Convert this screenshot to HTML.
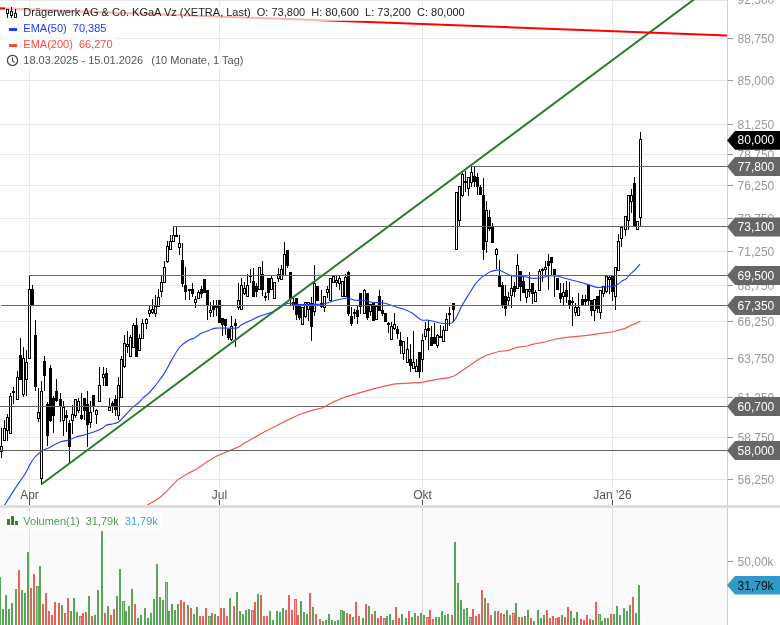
<!DOCTYPE html><html><head><meta charset="utf-8"><style>
html,body{margin:0;padding:0;background:#fff;width:780px;height:625px;overflow:hidden}
svg{display:block;will-change:transform}
text{font-family:"Liberation Sans",sans-serif}
</style></head><body>
<svg width="780" height="625" viewBox="0 0 780 625">
<rect x="0" y="0" width="780" height="625" fill="#fff"/>
<rect x="0" y="508" width="727" height="117" fill="#fafafa"/>
<g shape-rendering="crispEdges">
<rect x="0" y="0" width="727" height="1" fill="#e8e8e8"/>
<rect x="0" y="38" width="727" height="1" fill="#e8e8e8"/>
<rect x="0" y="80" width="727" height="1" fill="#e8e8e8"/>
<rect x="0" y="124" width="727" height="1" fill="#e8e8e8"/>
<rect x="0" y="154" width="727" height="1" fill="#e8e8e8"/>
<rect x="0" y="185" width="727" height="1" fill="#e8e8e8"/>
<rect x="0" y="218" width="727" height="1" fill="#e8e8e8"/>
<rect x="0" y="251" width="727" height="1" fill="#e8e8e8"/>
<rect x="0" y="285" width="727" height="1" fill="#e8e8e8"/>
<rect x="0" y="321" width="727" height="1" fill="#e8e8e8"/>
<rect x="0" y="358" width="727" height="1" fill="#e8e8e8"/>
<rect x="0" y="397" width="727" height="1" fill="#e8e8e8"/>
<rect x="0" y="437" width="727" height="1" fill="#e8e8e8"/>
<rect x="0" y="479" width="727" height="1" fill="#e8e8e8"/>
<rect x="29" y="0" width="1" height="505" fill="#e8e8e8"/>
<rect x="29" y="508" width="1" height="117" fill="#dedede"/>
<rect x="219" y="0" width="1" height="505" fill="#e8e8e8"/>
<rect x="219" y="508" width="1" height="117" fill="#dedede"/>
<rect x="422" y="0" width="1" height="505" fill="#e8e8e8"/>
<rect x="422" y="508" width="1" height="117" fill="#dedede"/>
<rect x="612" y="0" width="1" height="505" fill="#e8e8e8"/>
<rect x="612" y="508" width="1" height="117" fill="#dedede"/>
<rect x="727" y="0" width="1" height="625" fill="#d0d0d0"/>
<rect x="728" y="38" width="5" height="1" fill="#999"/>
<rect x="728" y="80" width="5" height="1" fill="#999"/>
<rect x="728" y="124" width="5" height="1" fill="#999"/>
<rect x="728" y="154" width="5" height="1" fill="#999"/>
<rect x="728" y="185" width="5" height="1" fill="#999"/>
<rect x="728" y="218" width="5" height="1" fill="#999"/>
<rect x="728" y="251" width="5" height="1" fill="#999"/>
<rect x="728" y="285" width="5" height="1" fill="#999"/>
<rect x="728" y="321" width="5" height="1" fill="#999"/>
<rect x="728" y="358" width="5" height="1" fill="#999"/>
<rect x="728" y="397" width="5" height="1" fill="#999"/>
<rect x="728" y="437" width="5" height="1" fill="#999"/>
<rect x="728" y="479" width="5" height="1" fill="#999"/>
<rect x="728" y="561" width="5" height="1" fill="#999"/>
<rect x="29" y="500" width="1" height="5" fill="#444"/>
<rect x="219" y="500" width="1" height="5" fill="#444"/>
<rect x="422" y="500" width="1" height="5" fill="#444"/>
<rect x="612" y="500" width="1" height="5" fill="#444"/>
<rect x="0" y="505" width="780" height="3" fill="#dddddd"/>
</g>
<g shape-rendering="crispEdges">
<rect x="-2" y="446" width="1" height="12" fill="#000"/>
<rect x="-3" y="448" width="3" height="9" fill="#000"/>
<rect x="1" y="428" width="1" height="30" fill="#000"/>
<rect x="0" y="446" width="3" height="6" fill="#000"/>
<rect x="1" y="447" width="1" height="4" fill="#fff"/>
<rect x="4" y="420" width="1" height="21" fill="#000"/>
<rect x="3" y="428" width="3" height="13" fill="#000"/>
<rect x="4" y="429" width="1" height="11" fill="#fff"/>
<rect x="7" y="414" width="1" height="27" fill="#000"/>
<rect x="6" y="417" width="3" height="14" fill="#000"/>
<rect x="7" y="418" width="1" height="12" fill="#fff"/>
<rect x="10" y="393" width="1" height="41" fill="#000"/>
<rect x="9" y="396" width="3" height="38" fill="#000"/>
<rect x="10" y="397" width="1" height="36" fill="#fff"/>
<rect x="13" y="387" width="1" height="17" fill="#000"/>
<rect x="12" y="391" width="3" height="2" fill="#000"/>
<rect x="17" y="371" width="1" height="29" fill="#000"/>
<rect x="16" y="377" width="3" height="23" fill="#000"/>
<rect x="17" y="378" width="1" height="21" fill="#fff"/>
<rect x="20" y="338" width="1" height="42" fill="#000"/>
<rect x="19" y="355" width="3" height="25" fill="#000"/>
<rect x="23" y="347" width="1" height="50" fill="#000"/>
<rect x="22" y="358" width="3" height="37" fill="#000"/>
<rect x="23" y="359" width="1" height="35" fill="#fff"/>
<rect x="26" y="350" width="1" height="46" fill="#000"/>
<rect x="25" y="362" width="3" height="18" fill="#000"/>
<rect x="26" y="363" width="1" height="16" fill="#fff"/>
<rect x="29" y="275" width="1" height="84" fill="#000"/>
<rect x="28" y="289" width="3" height="70" fill="#000"/>
<rect x="29" y="290" width="1" height="68" fill="#fff"/>
<rect x="32" y="285" width="1" height="21" fill="#000"/>
<rect x="31" y="289" width="3" height="17" fill="#000"/>
<rect x="35" y="320" width="1" height="71" fill="#000"/>
<rect x="34" y="335" width="3" height="52" fill="#000"/>
<rect x="38" y="388" width="1" height="34" fill="#000"/>
<rect x="37" y="412" width="3" height="7" fill="#000"/>
<rect x="38" y="413" width="1" height="5" fill="#fff"/>
<rect x="41" y="381" width="1" height="104" fill="#000"/>
<rect x="40" y="391" width="3" height="88" fill="#000"/>
<rect x="41" y="392" width="1" height="86" fill="#fff"/>
<rect x="44" y="356" width="1" height="35" fill="#000"/>
<rect x="43" y="361" width="3" height="15" fill="#000"/>
<rect x="47" y="402" width="1" height="44" fill="#000"/>
<rect x="46" y="404" width="3" height="32" fill="#000"/>
<rect x="50" y="365" width="1" height="57" fill="#000"/>
<rect x="49" y="368" width="3" height="53" fill="#000"/>
<rect x="53" y="396" width="1" height="37" fill="#000"/>
<rect x="52" y="398" width="3" height="18" fill="#000"/>
<rect x="56" y="379" width="1" height="23" fill="#000"/>
<rect x="55" y="391" width="3" height="10" fill="#000"/>
<rect x="60" y="393" width="1" height="29" fill="#000"/>
<rect x="59" y="399" width="3" height="7" fill="#000"/>
<rect x="63" y="401" width="1" height="35" fill="#000"/>
<rect x="62" y="407" width="3" height="14" fill="#000"/>
<rect x="63" y="408" width="1" height="12" fill="#fff"/>
<rect x="66" y="410" width="1" height="22" fill="#000"/>
<rect x="65" y="415" width="3" height="3" fill="#000"/>
<rect x="69" y="420" width="1" height="44" fill="#000"/>
<rect x="68" y="423" width="3" height="24" fill="#000"/>
<rect x="72" y="405" width="1" height="29" fill="#000"/>
<rect x="71" y="414" width="3" height="7" fill="#000"/>
<rect x="72" y="415" width="1" height="5" fill="#fff"/>
<rect x="75" y="399" width="1" height="19" fill="#000"/>
<rect x="74" y="399" width="3" height="17" fill="#000"/>
<rect x="75" y="400" width="1" height="15" fill="#fff"/>
<rect x="78" y="398" width="1" height="15" fill="#000"/>
<rect x="77" y="401" width="3" height="10" fill="#000"/>
<rect x="78" y="402" width="1" height="8" fill="#fff"/>
<rect x="81" y="393" width="1" height="27" fill="#000"/>
<rect x="80" y="415" width="3" height="4" fill="#000"/>
<rect x="84" y="398" width="1" height="22" fill="#000"/>
<rect x="83" y="398" width="3" height="13" fill="#000"/>
<rect x="87" y="391" width="1" height="56" fill="#000"/>
<rect x="86" y="404" width="3" height="21" fill="#000"/>
<rect x="90" y="401" width="1" height="27" fill="#000"/>
<rect x="89" y="412" width="3" height="11" fill="#000"/>
<rect x="90" y="413" width="1" height="9" fill="#fff"/>
<rect x="93" y="395" width="1" height="17" fill="#000"/>
<rect x="92" y="395" width="3" height="12" fill="#000"/>
<rect x="96" y="409" width="1" height="15" fill="#000"/>
<rect x="95" y="410" width="3" height="5" fill="#000"/>
<rect x="96" y="411" width="1" height="3" fill="#fff"/>
<rect x="99" y="367" width="1" height="35" fill="#000"/>
<rect x="98" y="385" width="3" height="17" fill="#000"/>
<rect x="99" y="386" width="1" height="15" fill="#fff"/>
<rect x="103" y="367" width="1" height="19" fill="#000"/>
<rect x="102" y="374" width="3" height="4" fill="#000"/>
<rect x="103" y="375" width="1" height="2" fill="#fff"/>
<rect x="106" y="368" width="1" height="18" fill="#000"/>
<rect x="105" y="373" width="3" height="13" fill="#000"/>
<rect x="109" y="398" width="1" height="13" fill="#000"/>
<rect x="108" y="407" width="3" height="4" fill="#000"/>
<rect x="109" y="408" width="1" height="2" fill="#fff"/>
<rect x="112" y="401" width="1" height="12" fill="#000"/>
<rect x="111" y="403" width="3" height="3" fill="#000"/>
<rect x="115" y="395" width="1" height="21" fill="#000"/>
<rect x="114" y="399" width="3" height="11" fill="#000"/>
<rect x="118" y="377" width="1" height="43" fill="#000"/>
<rect x="117" y="385" width="3" height="31" fill="#000"/>
<rect x="118" y="386" width="1" height="29" fill="#fff"/>
<rect x="121" y="356" width="1" height="42" fill="#000"/>
<rect x="120" y="359" width="3" height="39" fill="#000"/>
<rect x="121" y="360" width="1" height="37" fill="#fff"/>
<rect x="124" y="335" width="1" height="33" fill="#000"/>
<rect x="123" y="343" width="3" height="24" fill="#000"/>
<rect x="124" y="344" width="1" height="22" fill="#fff"/>
<rect x="127" y="331" width="1" height="22" fill="#000"/>
<rect x="126" y="344" width="3" height="3" fill="#000"/>
<rect x="127" y="345" width="1" height="1" fill="#fff"/>
<rect x="130" y="335" width="1" height="22" fill="#000"/>
<rect x="129" y="337" width="3" height="20" fill="#000"/>
<rect x="130" y="338" width="1" height="18" fill="#fff"/>
<rect x="133" y="323" width="1" height="25" fill="#000"/>
<rect x="132" y="325" width="3" height="23" fill="#000"/>
<rect x="133" y="326" width="1" height="21" fill="#fff"/>
<rect x="136" y="318" width="1" height="39" fill="#000"/>
<rect x="135" y="325" width="3" height="32" fill="#000"/>
<rect x="139" y="334" width="1" height="17" fill="#000"/>
<rect x="138" y="338" width="3" height="13" fill="#000"/>
<rect x="139" y="339" width="1" height="11" fill="#fff"/>
<rect x="142" y="319" width="1" height="20" fill="#000"/>
<rect x="141" y="323" width="3" height="16" fill="#000"/>
<rect x="142" y="324" width="1" height="14" fill="#fff"/>
<rect x="146" y="318" width="1" height="11" fill="#000"/>
<rect x="145" y="319" width="3" height="5" fill="#000"/>
<rect x="146" y="320" width="1" height="3" fill="#fff"/>
<rect x="149" y="306" width="1" height="11" fill="#000"/>
<rect x="148" y="310" width="3" height="4" fill="#000"/>
<rect x="149" y="311" width="1" height="2" fill="#fff"/>
<rect x="152" y="299" width="1" height="15" fill="#000"/>
<rect x="151" y="309" width="3" height="4" fill="#000"/>
<rect x="152" y="310" width="1" height="2" fill="#fff"/>
<rect x="155" y="295" width="1" height="22" fill="#000"/>
<rect x="154" y="306" width="3" height="8" fill="#000"/>
<rect x="155" y="307" width="1" height="6" fill="#fff"/>
<rect x="158" y="289" width="1" height="18" fill="#000"/>
<rect x="157" y="297" width="3" height="10" fill="#000"/>
<rect x="158" y="298" width="1" height="8" fill="#fff"/>
<rect x="161" y="276" width="1" height="21" fill="#000"/>
<rect x="160" y="282" width="3" height="10" fill="#000"/>
<rect x="161" y="283" width="1" height="8" fill="#fff"/>
<rect x="164" y="261" width="1" height="22" fill="#000"/>
<rect x="163" y="267" width="3" height="16" fill="#000"/>
<rect x="164" y="268" width="1" height="14" fill="#fff"/>
<rect x="167" y="241" width="1" height="22" fill="#000"/>
<rect x="166" y="246" width="3" height="16" fill="#000"/>
<rect x="167" y="247" width="1" height="14" fill="#fff"/>
<rect x="170" y="235" width="1" height="15" fill="#000"/>
<rect x="169" y="241" width="3" height="9" fill="#000"/>
<rect x="170" y="242" width="1" height="7" fill="#fff"/>
<rect x="173" y="226" width="1" height="16" fill="#000"/>
<rect x="172" y="235" width="3" height="7" fill="#000"/>
<rect x="173" y="236" width="1" height="5" fill="#fff"/>
<rect x="176" y="226" width="1" height="11" fill="#000"/>
<rect x="175" y="235" width="3" height="2" fill="#000"/>
<rect x="179" y="235" width="1" height="20" fill="#000"/>
<rect x="178" y="243" width="3" height="5" fill="#000"/>
<rect x="179" y="244" width="1" height="3" fill="#fff"/>
<rect x="182" y="243" width="1" height="44" fill="#000"/>
<rect x="181" y="260" width="3" height="24" fill="#000"/>
<rect x="185" y="267" width="1" height="33" fill="#000"/>
<rect x="184" y="285" width="3" height="7" fill="#000"/>
<rect x="189" y="289" width="1" height="11" fill="#000"/>
<rect x="188" y="289" width="3" height="2" fill="#000"/>
<rect x="192" y="283" width="1" height="14" fill="#000"/>
<rect x="191" y="289" width="3" height="5" fill="#000"/>
<rect x="195" y="296" width="1" height="12" fill="#000"/>
<rect x="194" y="299" width="3" height="4" fill="#000"/>
<rect x="195" y="300" width="1" height="2" fill="#fff"/>
<rect x="198" y="290" width="1" height="9" fill="#000"/>
<rect x="197" y="292" width="3" height="7" fill="#000"/>
<rect x="198" y="293" width="1" height="5" fill="#fff"/>
<rect x="201" y="286" width="1" height="12" fill="#000"/>
<rect x="200" y="289" width="3" height="5" fill="#000"/>
<rect x="204" y="279" width="1" height="14" fill="#000"/>
<rect x="203" y="279" width="3" height="14" fill="#000"/>
<rect x="207" y="290" width="1" height="30" fill="#000"/>
<rect x="206" y="290" width="3" height="16" fill="#000"/>
<rect x="210" y="302" width="1" height="15" fill="#000"/>
<rect x="209" y="310" width="3" height="3" fill="#000"/>
<rect x="210" y="311" width="1" height="1" fill="#fff"/>
<rect x="213" y="300" width="1" height="17" fill="#000"/>
<rect x="212" y="306" width="3" height="4" fill="#000"/>
<rect x="216" y="300" width="1" height="16" fill="#000"/>
<rect x="215" y="306" width="3" height="2" fill="#000"/>
<rect x="219" y="300" width="1" height="23" fill="#000"/>
<rect x="218" y="300" width="3" height="23" fill="#000"/>
<rect x="222" y="318" width="1" height="18" fill="#000"/>
<rect x="221" y="318" width="3" height="7" fill="#000"/>
<rect x="225" y="319" width="1" height="16" fill="#000"/>
<rect x="224" y="319" width="3" height="7" fill="#000"/>
<rect x="228" y="329" width="1" height="11" fill="#000"/>
<rect x="227" y="329" width="3" height="9" fill="#000"/>
<rect x="231" y="316" width="1" height="25" fill="#000"/>
<rect x="230" y="326" width="3" height="14" fill="#000"/>
<rect x="231" y="327" width="1" height="12" fill="#fff"/>
<rect x="235" y="319" width="1" height="28" fill="#000"/>
<rect x="234" y="323" width="3" height="3" fill="#000"/>
<rect x="238" y="283" width="1" height="27" fill="#000"/>
<rect x="237" y="300" width="3" height="8" fill="#000"/>
<rect x="238" y="301" width="1" height="6" fill="#fff"/>
<rect x="241" y="278" width="1" height="32" fill="#000"/>
<rect x="240" y="285" width="3" height="25" fill="#000"/>
<rect x="241" y="286" width="1" height="23" fill="#fff"/>
<rect x="244" y="282" width="1" height="13" fill="#000"/>
<rect x="243" y="288" width="3" height="6" fill="#000"/>
<rect x="244" y="289" width="1" height="4" fill="#fff"/>
<rect x="247" y="274" width="1" height="23" fill="#000"/>
<rect x="246" y="285" width="3" height="12" fill="#000"/>
<rect x="247" y="286" width="1" height="10" fill="#fff"/>
<rect x="250" y="269" width="1" height="14" fill="#000"/>
<rect x="249" y="275" width="3" height="2" fill="#000"/>
<rect x="253" y="268" width="1" height="29" fill="#000"/>
<rect x="252" y="281" width="3" height="16" fill="#000"/>
<rect x="256" y="283" width="1" height="14" fill="#000"/>
<rect x="255" y="286" width="3" height="6" fill="#000"/>
<rect x="259" y="267" width="1" height="23" fill="#000"/>
<rect x="258" y="267" width="3" height="23" fill="#000"/>
<rect x="259" y="268" width="1" height="21" fill="#fff"/>
<rect x="262" y="261" width="1" height="35" fill="#000"/>
<rect x="261" y="274" width="3" height="16" fill="#000"/>
<rect x="265" y="292" width="1" height="9" fill="#000"/>
<rect x="264" y="296" width="3" height="2" fill="#000"/>
<rect x="268" y="278" width="1" height="22" fill="#000"/>
<rect x="267" y="278" width="3" height="15" fill="#000"/>
<rect x="271" y="276" width="1" height="14" fill="#000"/>
<rect x="270" y="278" width="3" height="12" fill="#000"/>
<rect x="271" y="279" width="1" height="10" fill="#fff"/>
<rect x="274" y="282" width="1" height="17" fill="#000"/>
<rect x="273" y="282" width="3" height="17" fill="#000"/>
<rect x="274" y="283" width="1" height="15" fill="#fff"/>
<rect x="278" y="268" width="1" height="14" fill="#000"/>
<rect x="277" y="274" width="3" height="5" fill="#000"/>
<rect x="278" y="275" width="1" height="3" fill="#fff"/>
<rect x="281" y="265" width="1" height="15" fill="#000"/>
<rect x="280" y="269" width="3" height="11" fill="#000"/>
<rect x="281" y="270" width="1" height="9" fill="#fff"/>
<rect x="284" y="242" width="1" height="34" fill="#000"/>
<rect x="283" y="254" width="3" height="22" fill="#000"/>
<rect x="284" y="255" width="1" height="20" fill="#fff"/>
<rect x="287" y="250" width="1" height="18" fill="#000"/>
<rect x="286" y="250" width="3" height="16" fill="#000"/>
<rect x="290" y="272" width="1" height="34" fill="#000"/>
<rect x="289" y="272" width="3" height="27" fill="#000"/>
<rect x="293" y="296" width="1" height="14" fill="#000"/>
<rect x="292" y="302" width="3" height="3" fill="#000"/>
<rect x="296" y="298" width="1" height="22" fill="#000"/>
<rect x="295" y="298" width="3" height="17" fill="#000"/>
<rect x="299" y="304" width="1" height="16" fill="#000"/>
<rect x="298" y="304" width="3" height="14" fill="#000"/>
<rect x="302" y="307" width="1" height="18" fill="#000"/>
<rect x="301" y="307" width="3" height="18" fill="#000"/>
<rect x="302" y="308" width="1" height="16" fill="#fff"/>
<rect x="305" y="302" width="1" height="16" fill="#000"/>
<rect x="304" y="302" width="3" height="15" fill="#000"/>
<rect x="305" y="303" width="1" height="13" fill="#fff"/>
<rect x="308" y="302" width="1" height="19" fill="#000"/>
<rect x="307" y="302" width="3" height="8" fill="#000"/>
<rect x="308" y="303" width="1" height="6" fill="#fff"/>
<rect x="311" y="297" width="1" height="44" fill="#000"/>
<rect x="310" y="303" width="3" height="24" fill="#000"/>
<rect x="314" y="265" width="1" height="51" fill="#000"/>
<rect x="313" y="283" width="3" height="29" fill="#000"/>
<rect x="314" y="284" width="1" height="27" fill="#fff"/>
<rect x="317" y="286" width="1" height="15" fill="#000"/>
<rect x="316" y="286" width="3" height="15" fill="#000"/>
<rect x="321" y="290" width="1" height="18" fill="#000"/>
<rect x="320" y="303" width="3" height="4" fill="#000"/>
<rect x="324" y="296" width="1" height="16" fill="#000"/>
<rect x="323" y="296" width="3" height="12" fill="#000"/>
<rect x="324" y="297" width="1" height="10" fill="#fff"/>
<rect x="327" y="286" width="1" height="12" fill="#000"/>
<rect x="326" y="289" width="3" height="4" fill="#000"/>
<rect x="327" y="290" width="1" height="2" fill="#fff"/>
<rect x="330" y="278" width="1" height="23" fill="#000"/>
<rect x="329" y="278" width="3" height="23" fill="#000"/>
<rect x="330" y="279" width="1" height="21" fill="#fff"/>
<rect x="333" y="276" width="1" height="7" fill="#000"/>
<rect x="332" y="276" width="3" height="7" fill="#000"/>
<rect x="333" y="277" width="1" height="5" fill="#fff"/>
<rect x="336" y="276" width="1" height="11" fill="#000"/>
<rect x="335" y="280" width="3" height="3" fill="#000"/>
<rect x="336" y="281" width="1" height="1" fill="#fff"/>
<rect x="339" y="276" width="1" height="14" fill="#000"/>
<rect x="338" y="278" width="3" height="6" fill="#000"/>
<rect x="339" y="279" width="1" height="4" fill="#fff"/>
<rect x="342" y="281" width="1" height="16" fill="#000"/>
<rect x="341" y="281" width="3" height="16" fill="#000"/>
<rect x="342" y="282" width="1" height="14" fill="#fff"/>
<rect x="345" y="274" width="1" height="23" fill="#000"/>
<rect x="344" y="277" width="3" height="20" fill="#000"/>
<rect x="345" y="278" width="1" height="18" fill="#fff"/>
<rect x="348" y="271" width="1" height="45" fill="#000"/>
<rect x="347" y="272" width="3" height="42" fill="#000"/>
<rect x="351" y="307" width="1" height="19" fill="#000"/>
<rect x="350" y="316" width="3" height="8" fill="#000"/>
<rect x="354" y="309" width="1" height="10" fill="#000"/>
<rect x="353" y="312" width="3" height="2" fill="#000"/>
<rect x="357" y="306" width="1" height="18" fill="#000"/>
<rect x="356" y="310" width="3" height="7" fill="#000"/>
<rect x="360" y="293" width="1" height="21" fill="#000"/>
<rect x="359" y="293" width="3" height="14" fill="#000"/>
<rect x="364" y="289" width="1" height="25" fill="#000"/>
<rect x="363" y="290" width="3" height="24" fill="#000"/>
<rect x="364" y="291" width="1" height="22" fill="#fff"/>
<rect x="367" y="293" width="1" height="27" fill="#000"/>
<rect x="366" y="293" width="3" height="25" fill="#000"/>
<rect x="370" y="304" width="1" height="12" fill="#000"/>
<rect x="369" y="304" width="3" height="8" fill="#000"/>
<rect x="370" y="305" width="1" height="6" fill="#fff"/>
<rect x="373" y="303" width="1" height="18" fill="#000"/>
<rect x="372" y="303" width="3" height="18" fill="#000"/>
<rect x="376" y="306" width="1" height="14" fill="#000"/>
<rect x="375" y="306" width="3" height="14" fill="#000"/>
<rect x="376" y="307" width="1" height="12" fill="#fff"/>
<rect x="379" y="290" width="1" height="21" fill="#000"/>
<rect x="378" y="296" width="3" height="15" fill="#000"/>
<rect x="382" y="300" width="1" height="16" fill="#000"/>
<rect x="381" y="310" width="3" height="4" fill="#000"/>
<rect x="385" y="313" width="1" height="9" fill="#000"/>
<rect x="384" y="313" width="3" height="9" fill="#000"/>
<rect x="388" y="322" width="1" height="11" fill="#000"/>
<rect x="387" y="323" width="3" height="2" fill="#000"/>
<rect x="391" y="322" width="1" height="18" fill="#000"/>
<rect x="390" y="326" width="3" height="14" fill="#000"/>
<rect x="391" y="327" width="1" height="12" fill="#fff"/>
<rect x="394" y="313" width="1" height="17" fill="#000"/>
<rect x="393" y="324" width="3" height="5" fill="#000"/>
<rect x="394" y="325" width="1" height="3" fill="#fff"/>
<rect x="397" y="326" width="1" height="13" fill="#000"/>
<rect x="396" y="329" width="3" height="5" fill="#000"/>
<rect x="400" y="332" width="1" height="22" fill="#000"/>
<rect x="399" y="340" width="3" height="6" fill="#000"/>
<rect x="403" y="341" width="1" height="19" fill="#000"/>
<rect x="402" y="341" width="3" height="13" fill="#000"/>
<rect x="403" y="342" width="1" height="11" fill="#fff"/>
<rect x="407" y="337" width="1" height="26" fill="#000"/>
<rect x="406" y="349" width="3" height="14" fill="#000"/>
<rect x="407" y="350" width="1" height="12" fill="#fff"/>
<rect x="410" y="344" width="1" height="28" fill="#000"/>
<rect x="409" y="359" width="3" height="7" fill="#000"/>
<rect x="413" y="331" width="1" height="38" fill="#000"/>
<rect x="412" y="362" width="3" height="7" fill="#000"/>
<rect x="413" y="363" width="1" height="5" fill="#fff"/>
<rect x="416" y="359" width="1" height="13" fill="#000"/>
<rect x="415" y="366" width="3" height="6" fill="#000"/>
<rect x="416" y="367" width="1" height="4" fill="#fff"/>
<rect x="419" y="352" width="1" height="26" fill="#000"/>
<rect x="418" y="352" width="3" height="20" fill="#000"/>
<rect x="422" y="334" width="1" height="38" fill="#000"/>
<rect x="421" y="340" width="3" height="20" fill="#000"/>
<rect x="422" y="341" width="1" height="18" fill="#fff"/>
<rect x="425" y="322" width="1" height="18" fill="#000"/>
<rect x="424" y="329" width="3" height="8" fill="#000"/>
<rect x="425" y="330" width="1" height="6" fill="#fff"/>
<rect x="428" y="320" width="1" height="30" fill="#000"/>
<rect x="427" y="328" width="3" height="3" fill="#000"/>
<rect x="431" y="326" width="1" height="20" fill="#000"/>
<rect x="430" y="337" width="3" height="9" fill="#000"/>
<rect x="434" y="323" width="1" height="21" fill="#000"/>
<rect x="433" y="337" width="3" height="7" fill="#000"/>
<rect x="437" y="334" width="1" height="14" fill="#000"/>
<rect x="436" y="335" width="3" height="11" fill="#000"/>
<rect x="437" y="336" width="1" height="9" fill="#fff"/>
<rect x="440" y="325" width="1" height="13" fill="#000"/>
<rect x="439" y="336" width="3" height="2" fill="#000"/>
<rect x="443" y="326" width="1" height="16" fill="#000"/>
<rect x="442" y="330" width="3" height="12" fill="#000"/>
<rect x="443" y="331" width="1" height="10" fill="#fff"/>
<rect x="446" y="313" width="1" height="18" fill="#000"/>
<rect x="445" y="319" width="3" height="12" fill="#000"/>
<rect x="446" y="320" width="1" height="10" fill="#fff"/>
<rect x="449" y="307" width="1" height="19" fill="#000"/>
<rect x="448" y="313" width="3" height="2" fill="#000"/>
<rect x="453" y="303" width="1" height="18" fill="#000"/>
<rect x="452" y="303" width="3" height="7" fill="#000"/>
<rect x="456" y="192" width="1" height="58" fill="#000"/>
<rect x="455" y="192" width="3" height="58" fill="#000"/>
<rect x="456" y="193" width="1" height="56" fill="#fff"/>
<rect x="459" y="186" width="1" height="40" fill="#000"/>
<rect x="458" y="186" width="3" height="35" fill="#000"/>
<rect x="459" y="187" width="1" height="33" fill="#fff"/>
<rect x="462" y="172" width="1" height="25" fill="#000"/>
<rect x="461" y="174" width="3" height="22" fill="#000"/>
<rect x="462" y="175" width="1" height="20" fill="#fff"/>
<rect x="465" y="171" width="1" height="21" fill="#000"/>
<rect x="464" y="181" width="3" height="2" fill="#000"/>
<rect x="468" y="177" width="1" height="19" fill="#000"/>
<rect x="467" y="177" width="3" height="12" fill="#000"/>
<rect x="468" y="178" width="1" height="10" fill="#fff"/>
<rect x="471" y="166" width="1" height="21" fill="#000"/>
<rect x="470" y="172" width="3" height="11" fill="#000"/>
<rect x="471" y="173" width="1" height="9" fill="#fff"/>
<rect x="474" y="166" width="1" height="21" fill="#000"/>
<rect x="473" y="176" width="3" height="6" fill="#000"/>
<rect x="477" y="173" width="1" height="22" fill="#000"/>
<rect x="476" y="177" width="3" height="10" fill="#000"/>
<rect x="480" y="185" width="1" height="10" fill="#000"/>
<rect x="479" y="187" width="3" height="8" fill="#000"/>
<rect x="483" y="178" width="1" height="82" fill="#000"/>
<rect x="482" y="195" width="3" height="55" fill="#000"/>
<rect x="486" y="201" width="1" height="52" fill="#000"/>
<rect x="485" y="210" width="3" height="32" fill="#000"/>
<rect x="486" y="211" width="1" height="30" fill="#fff"/>
<rect x="489" y="210" width="1" height="21" fill="#000"/>
<rect x="488" y="217" width="3" height="12" fill="#000"/>
<rect x="492" y="223" width="1" height="20" fill="#000"/>
<rect x="491" y="227" width="3" height="16" fill="#000"/>
<rect x="496" y="248" width="1" height="21" fill="#000"/>
<rect x="495" y="249" width="3" height="6" fill="#000"/>
<rect x="496" y="250" width="1" height="4" fill="#fff"/>
<rect x="499" y="260" width="1" height="27" fill="#000"/>
<rect x="498" y="276" width="3" height="11" fill="#000"/>
<rect x="502" y="282" width="1" height="26" fill="#000"/>
<rect x="501" y="285" width="3" height="21" fill="#000"/>
<rect x="505" y="285" width="1" height="31" fill="#000"/>
<rect x="504" y="296" width="3" height="13" fill="#000"/>
<rect x="508" y="292" width="1" height="14" fill="#000"/>
<rect x="507" y="297" width="3" height="4" fill="#000"/>
<rect x="508" y="298" width="1" height="2" fill="#fff"/>
<rect x="511" y="276" width="1" height="32" fill="#000"/>
<rect x="510" y="288" width="3" height="8" fill="#000"/>
<rect x="511" y="289" width="1" height="6" fill="#fff"/>
<rect x="514" y="282" width="1" height="15" fill="#000"/>
<rect x="513" y="286" width="3" height="6" fill="#000"/>
<rect x="517" y="254" width="1" height="35" fill="#000"/>
<rect x="516" y="265" width="3" height="24" fill="#000"/>
<rect x="517" y="266" width="1" height="22" fill="#fff"/>
<rect x="520" y="271" width="1" height="30" fill="#000"/>
<rect x="519" y="271" width="3" height="16" fill="#000"/>
<rect x="523" y="277" width="1" height="16" fill="#000"/>
<rect x="522" y="281" width="3" height="12" fill="#000"/>
<rect x="526" y="289" width="1" height="14" fill="#000"/>
<rect x="525" y="289" width="3" height="9" fill="#000"/>
<rect x="526" y="290" width="1" height="7" fill="#fff"/>
<rect x="529" y="272" width="1" height="25" fill="#000"/>
<rect x="528" y="289" width="3" height="3" fill="#000"/>
<rect x="529" y="290" width="1" height="1" fill="#fff"/>
<rect x="532" y="283" width="1" height="21" fill="#000"/>
<rect x="531" y="283" width="3" height="11" fill="#000"/>
<rect x="535" y="290" width="1" height="12" fill="#000"/>
<rect x="534" y="292" width="3" height="10" fill="#000"/>
<rect x="535" y="293" width="1" height="8" fill="#fff"/>
<rect x="539" y="269" width="1" height="22" fill="#000"/>
<rect x="538" y="271" width="3" height="20" fill="#000"/>
<rect x="539" y="272" width="1" height="18" fill="#fff"/>
<rect x="542" y="268" width="1" height="14" fill="#000"/>
<rect x="541" y="269" width="3" height="2" fill="#000"/>
<rect x="545" y="261" width="1" height="15" fill="#000"/>
<rect x="544" y="267" width="3" height="3" fill="#000"/>
<rect x="545" y="268" width="1" height="1" fill="#fff"/>
<rect x="548" y="254" width="1" height="36" fill="#000"/>
<rect x="547" y="261" width="3" height="5" fill="#000"/>
<rect x="551" y="257" width="1" height="19" fill="#000"/>
<rect x="550" y="257" width="3" height="6" fill="#000"/>
<rect x="554" y="269" width="1" height="28" fill="#000"/>
<rect x="553" y="269" width="3" height="7" fill="#000"/>
<rect x="557" y="278" width="1" height="12" fill="#000"/>
<rect x="556" y="278" width="3" height="12" fill="#000"/>
<rect x="560" y="283" width="1" height="20" fill="#000"/>
<rect x="559" y="293" width="3" height="6" fill="#000"/>
<rect x="563" y="283" width="1" height="23" fill="#000"/>
<rect x="562" y="292" width="3" height="5" fill="#000"/>
<rect x="563" y="293" width="1" height="3" fill="#fff"/>
<rect x="566" y="281" width="1" height="22" fill="#000"/>
<rect x="565" y="290" width="3" height="7" fill="#000"/>
<rect x="569" y="282" width="1" height="27" fill="#000"/>
<rect x="568" y="300" width="3" height="6" fill="#000"/>
<rect x="572" y="297" width="1" height="29" fill="#000"/>
<rect x="571" y="301" width="3" height="2" fill="#000"/>
<rect x="575" y="303" width="1" height="13" fill="#000"/>
<rect x="574" y="307" width="3" height="6" fill="#000"/>
<rect x="575" y="308" width="1" height="4" fill="#fff"/>
<rect x="578" y="293" width="1" height="23" fill="#000"/>
<rect x="577" y="307" width="3" height="9" fill="#000"/>
<rect x="578" y="308" width="1" height="7" fill="#fff"/>
<rect x="582" y="295" width="1" height="11" fill="#000"/>
<rect x="581" y="299" width="3" height="7" fill="#000"/>
<rect x="585" y="295" width="1" height="11" fill="#000"/>
<rect x="584" y="299" width="3" height="3" fill="#000"/>
<rect x="588" y="285" width="1" height="21" fill="#000"/>
<rect x="587" y="285" width="3" height="16" fill="#000"/>
<rect x="591" y="300" width="1" height="16" fill="#000"/>
<rect x="590" y="300" width="3" height="11" fill="#000"/>
<rect x="594" y="299" width="1" height="22" fill="#000"/>
<rect x="593" y="299" width="3" height="12" fill="#000"/>
<rect x="594" y="300" width="1" height="10" fill="#fff"/>
<rect x="597" y="296" width="1" height="17" fill="#000"/>
<rect x="596" y="296" width="3" height="13" fill="#000"/>
<rect x="600" y="290" width="1" height="29" fill="#000"/>
<rect x="599" y="290" width="3" height="23" fill="#000"/>
<rect x="600" y="291" width="1" height="21" fill="#fff"/>
<rect x="603" y="286" width="1" height="11" fill="#000"/>
<rect x="602" y="286" width="3" height="8" fill="#000"/>
<rect x="603" y="287" width="1" height="6" fill="#fff"/>
<rect x="606" y="276" width="1" height="17" fill="#000"/>
<rect x="605" y="276" width="3" height="16" fill="#000"/>
<rect x="606" y="277" width="1" height="14" fill="#fff"/>
<rect x="609" y="276" width="1" height="18" fill="#000"/>
<rect x="608" y="277" width="3" height="3" fill="#000"/>
<rect x="609" y="278" width="1" height="1" fill="#fff"/>
<rect x="612" y="276" width="1" height="25" fill="#000"/>
<rect x="611" y="276" width="3" height="16" fill="#000"/>
<rect x="615" y="267" width="1" height="43" fill="#000"/>
<rect x="614" y="267" width="3" height="30" fill="#000"/>
<rect x="615" y="268" width="1" height="28" fill="#fff"/>
<rect x="618" y="234" width="1" height="37" fill="#000"/>
<rect x="617" y="241" width="3" height="30" fill="#000"/>
<rect x="618" y="242" width="1" height="28" fill="#fff"/>
<rect x="621" y="227" width="1" height="20" fill="#000"/>
<rect x="620" y="227" width="3" height="12" fill="#000"/>
<rect x="621" y="228" width="1" height="10" fill="#fff"/>
<rect x="625" y="216" width="1" height="20" fill="#000"/>
<rect x="624" y="216" width="3" height="14" fill="#000"/>
<rect x="625" y="217" width="1" height="12" fill="#fff"/>
<rect x="628" y="195" width="1" height="35" fill="#000"/>
<rect x="627" y="195" width="3" height="26" fill="#000"/>
<rect x="628" y="196" width="1" height="24" fill="#fff"/>
<rect x="631" y="189" width="1" height="24" fill="#000"/>
<rect x="630" y="195" width="3" height="7" fill="#000"/>
<rect x="631" y="196" width="1" height="5" fill="#fff"/>
<rect x="634" y="177" width="1" height="50" fill="#000"/>
<rect x="633" y="183" width="3" height="44" fill="#000"/>
<rect x="637" y="221" width="1" height="9" fill="#000"/>
<rect x="636" y="221" width="3" height="9" fill="#000"/>
<rect x="637" y="222" width="1" height="7" fill="#fff"/>
<rect x="640" y="132" width="1" height="94" fill="#000"/>
<rect x="639" y="139" width="3" height="79" fill="#000"/>
<rect x="640" y="140" width="1" height="77" fill="#fff"/>
</g>
<clipPath id="pc"><rect x="0" y="0" width="727" height="505"/></clipPath>
<polyline clip-path="url(#pc)" fill="none" stroke="#f4574a" stroke-width="1.2" points="146,506 148.3,504.5 159.2,498.1 165.6,492.3 177.2,480.1 188.7,473.1 196.4,469.2 208,461.3 216.9,456 229.7,450.6 240,446.2 244.2,443.2 253.5,438.1 262.7,432.7 275,426.5 287.3,420.1 299.6,414.5 311.9,410.4 322.7,407.8 333.5,401.9 345.8,396.8 358.5,393.1 372.3,389.2 384.6,386.2 395.4,383.8 409.2,383.1 421.5,382.3 435.4,379.7 449.2,377.6 455.1,375.5 465.4,368.5 479.5,358.8 487.2,355 498.7,351.5 509,350.3 516.7,347.3 526.9,346 533.3,344.1 545,342 554,339.5 564.2,337.6 577,336.3 587.3,335.4 598.8,333.7 611.7,332 624.5,328.6 630.9,325.4 640.5,321.3"/>
<path clip-path="url(#pc)" fill="none" stroke="#1f3cff" stroke-width="1.1" d="M4,506 C5.83,503.10 11.50,493.93 15,488.6 C18.50,483.27 22.50,478.03 25,474 C27.50,469.97 28.33,467.23 30,464.4 C31.67,461.57 33.00,459.23 35,457 C37.00,454.77 39.50,452.63 42,451 C44.50,449.37 47.00,448.70 50,447.2 C53.00,445.70 56.67,443.23 60,442 C63.33,440.77 67.33,440.63 70,439.8 C72.67,438.97 73.33,437.90 76,437 C78.67,436.10 82.00,435.67 86,434.4 C90.00,433.13 96.55,430.95 100,429.4 C103.45,427.85 104.78,425.98 106.7,425.1 C108.62,424.22 109.58,424.58 111.5,424.1 C113.42,423.62 115.95,423.63 118.2,422.2 C120.45,420.77 122.60,417.97 125,415.5 C127.40,413.03 130.37,409.48 132.6,407.4 C134.83,405.32 136.63,404.60 138.4,403 C140.17,401.40 141.43,399.47 143.2,397.8 C144.97,396.13 147.25,394.68 149,393 C150.75,391.32 151.95,389.87 153.7,387.7 C155.45,385.53 157.73,382.38 159.5,380 C161.27,377.62 162.30,376.67 164.3,373.4 C166.30,370.13 168.98,364.72 171.5,360.4 C174.02,356.08 176.77,350.73 179.4,347.5 C182.03,344.27 184.65,342.68 187.3,341 C189.95,339.32 192.90,338.72 195.3,337.4 C197.70,336.08 199.43,334.25 201.7,333.1 C203.97,331.95 206.50,331.33 208.9,330.5 C211.30,329.67 211.53,328.50 216.1,328.1 C220.67,327.70 232.32,328.47 236.3,328.1 C240.28,327.73 238.55,326.75 240,325.9 C241.45,325.05 243.33,323.85 245,323 C246.67,322.15 247.50,321.97 250,320.8 C252.50,319.63 255.83,317.63 260,316 C264.17,314.37 270.83,312.92 275,311 C279.17,309.08 282.50,305.78 285,304.5 C287.50,303.22 288.33,303.33 290,303.3 C291.67,303.27 291.67,304.12 295,304.3 C298.33,304.48 305.25,304.45 310,304.4 C314.75,304.35 319.33,304.65 323.5,304 C327.67,303.35 331.17,301.47 335,300.5 C338.83,299.53 343.08,298.23 346.5,298.2 C349.92,298.17 352.58,299.93 355.5,300.3 C358.42,300.67 361.25,300.07 364,300.4 C366.75,300.73 369.17,301.92 372,302.3 C374.83,302.68 378.67,302.50 381,302.7 C383.33,302.90 383.95,302.95 386,303.5 C388.05,304.05 390.30,305.03 393.3,306 C396.30,306.97 400.88,308.13 404,309.3 C407.12,310.47 409.17,311.27 412,313 C414.83,314.73 418.22,318.48 421,319.7 C423.78,320.92 425.48,319.75 428.7,320.3 C431.92,320.85 436.77,322.43 440.3,323 C443.83,323.57 447.55,324.12 449.9,323.7 C452.25,323.28 453.05,322.12 454.4,320.5 C455.75,318.88 456.73,316.50 458,314 C459.27,311.50 460.25,308.68 462,305.5 C463.75,302.32 466.35,298.38 468.5,294.9 C470.65,291.42 472.77,287.48 474.9,284.6 C477.03,281.72 479.60,279.20 481.3,277.6 C483.00,276.00 483.60,275.97 485.1,275 C486.60,274.03 488.37,272.62 490.3,271.8 C492.23,270.98 495.10,270.32 496.7,270.1 C498.30,269.88 498.20,269.90 499.9,270.5 C501.60,271.10 504.88,272.85 506.9,273.7 C508.92,274.55 508.98,275.08 512,275.6 C515.02,276.12 521.67,276.35 525,276.8 C528.33,277.25 529.50,278.10 532,278.3 C534.50,278.50 537.00,278.42 540,278 C543.00,277.58 547.00,276.10 550,275.8 C553.00,275.50 555.50,275.78 558,276.2 C560.50,276.62 560.50,277.07 565,278.3 C569.50,279.53 579.67,282.08 585,283.6 C590.33,285.12 593.67,286.87 597,287.4 C600.33,287.93 602.50,286.95 605,286.8 C607.50,286.65 610.00,286.80 612,286.5 C614.00,286.20 615.33,285.92 617,285 C618.67,284.08 620.50,282.03 622,281 C623.50,279.97 624.67,279.92 626,278.8 C627.33,277.68 628.50,275.77 630,274.3 C631.50,272.83 633.33,271.72 635,270 C636.67,268.28 639.17,265.00 640,264"/>
<g shape-rendering="crispEdges">
<rect x="471" y="166" width="256" height="1" fill="#666"/>
<rect x="173" y="226" width="554" height="1" fill="#666"/>
<rect x="29" y="275" width="698" height="1" fill="#666"/>
<rect x="1" y="305" width="726" height="1" fill="#666"/>
<rect x="0" y="406" width="727" height="1" fill="#666"/>
<rect x="0" y="450" width="727" height="1" fill="#666"/>
</g>
<g shape-rendering="crispEdges">
<rect x="-1" y="577" width="2" height="48" fill="#5aa55a"/>
<rect x="2" y="609" width="2" height="16" fill="#5aa55a"/>
<rect x="5" y="595" width="2" height="30" fill="#5aa55a"/>
<rect x="8" y="609" width="2" height="16" fill="#5aa55a"/>
<rect x="11" y="603" width="2" height="22" fill="#5aa55a"/>
<rect x="15" y="589" width="2" height="36" fill="#5aa55a"/>
<rect x="18" y="570" width="2" height="55" fill="#e8605a"/>
<rect x="21" y="590" width="2" height="35" fill="#5aa55a"/>
<rect x="24" y="593" width="2" height="32" fill="#5aa55a"/>
<rect x="27" y="552" width="2" height="73" fill="#5aa55a"/>
<rect x="30" y="588" width="2" height="37" fill="#e8605a"/>
<rect x="33" y="574" width="2" height="51" fill="#e8605a"/>
<rect x="36" y="586" width="3" height="39" fill="#5aa55a"/>
<rect x="37" y="587" width="1" height="38" fill="#fff" fill-opacity="0.45"/>
<rect x="39" y="566" width="2" height="59" fill="#5aa55a"/>
<rect x="42" y="604" width="2" height="21" fill="#e8605a"/>
<rect x="45" y="593" width="2" height="32" fill="#e8605a"/>
<rect x="48" y="611" width="2" height="14" fill="#e8605a"/>
<rect x="51" y="615" width="2" height="10" fill="#e8605a"/>
<rect x="54" y="602" width="2" height="23" fill="#e8605a"/>
<rect x="58" y="603" width="2" height="22" fill="#e8605a"/>
<rect x="61" y="605" width="2" height="20" fill="#5aa55a"/>
<rect x="64" y="613" width="2" height="12" fill="#e8605a"/>
<rect x="67" y="598" width="2" height="27" fill="#e8605a"/>
<rect x="70" y="611" width="2" height="14" fill="#5aa55a"/>
<rect x="73" y="598" width="2" height="27" fill="#5aa55a"/>
<rect x="76" y="612" width="2" height="13" fill="#5aa55a"/>
<rect x="79" y="616" width="3" height="9" fill="#e8605a"/>
<rect x="80" y="617" width="1" height="8" fill="#fff" fill-opacity="0.45"/>
<rect x="82" y="613" width="2" height="12" fill="#e8605a"/>
<rect x="85" y="612" width="2" height="13" fill="#e8605a"/>
<rect x="88" y="596" width="2" height="29" fill="#5aa55a"/>
<rect x="91" y="616" width="2" height="9" fill="#e8605a"/>
<rect x="94" y="615" width="2" height="10" fill="#5aa55a"/>
<rect x="97" y="590" width="2" height="35" fill="#5aa55a"/>
<rect x="101" y="531" width="2" height="94" fill="#5aa55a"/>
<rect x="104" y="613" width="2" height="12" fill="#e8605a"/>
<rect x="107" y="606" width="2" height="19" fill="#5aa55a"/>
<rect x="110" y="615" width="2" height="10" fill="#e8605a"/>
<rect x="113" y="609" width="2" height="16" fill="#e8605a"/>
<rect x="116" y="596" width="2" height="29" fill="#5aa55a"/>
<rect x="119" y="569" width="2" height="56" fill="#5aa55a"/>
<rect x="122" y="601" width="3" height="24" fill="#5aa55a"/>
<rect x="123" y="602" width="1" height="23" fill="#fff" fill-opacity="0.45"/>
<rect x="125" y="611" width="2" height="14" fill="#5aa55a"/>
<rect x="128" y="606" width="2" height="19" fill="#5aa55a"/>
<rect x="131" y="589" width="2" height="36" fill="#5aa55a"/>
<rect x="134" y="604" width="2" height="21" fill="#e8605a"/>
<rect x="137" y="618" width="2" height="7" fill="#5aa55a"/>
<rect x="140" y="615" width="2" height="10" fill="#5aa55a"/>
<rect x="144" y="608" width="2" height="17" fill="#5aa55a"/>
<rect x="147" y="618" width="2" height="7" fill="#5aa55a"/>
<rect x="150" y="613" width="2" height="12" fill="#5aa55a"/>
<rect x="153" y="599" width="2" height="26" fill="#5aa55a"/>
<rect x="156" y="564" width="2" height="61" fill="#5aa55a"/>
<rect x="159" y="597" width="2" height="28" fill="#5aa55a"/>
<rect x="162" y="600" width="2" height="25" fill="#5aa55a"/>
<rect x="165" y="582" width="3" height="43" fill="#5aa55a"/>
<rect x="166" y="583" width="1" height="42" fill="#fff" fill-opacity="0.45"/>
<rect x="168" y="611" width="2" height="14" fill="#5aa55a"/>
<rect x="171" y="604" width="2" height="21" fill="#5aa55a"/>
<rect x="174" y="610" width="2" height="15" fill="#5aa55a"/>
<rect x="177" y="604" width="2" height="21" fill="#5aa55a"/>
<rect x="180" y="600" width="2" height="25" fill="#e8605a"/>
<rect x="183" y="602" width="2" height="23" fill="#e8605a"/>
<rect x="187" y="605" width="2" height="20" fill="#5aa55a"/>
<rect x="190" y="608" width="2" height="17" fill="#e8605a"/>
<rect x="193" y="614" width="2" height="11" fill="#5aa55a"/>
<rect x="196" y="607" width="2" height="18" fill="#5aa55a"/>
<rect x="199" y="616" width="2" height="9" fill="#e8605a"/>
<rect x="202" y="616" width="2" height="9" fill="#e8605a"/>
<rect x="205" y="608" width="2" height="17" fill="#e8605a"/>
<rect x="208" y="616" width="3" height="9" fill="#5aa55a"/>
<rect x="209" y="617" width="1" height="8" fill="#fff" fill-opacity="0.45"/>
<rect x="211" y="613" width="2" height="12" fill="#e8605a"/>
<rect x="214" y="614" width="2" height="11" fill="#5aa55a"/>
<rect x="217" y="616" width="2" height="9" fill="#e8605a"/>
<rect x="220" y="608" width="2" height="17" fill="#e8605a"/>
<rect x="223" y="608" width="2" height="17" fill="#e8605a"/>
<rect x="226" y="616" width="2" height="9" fill="#e8605a"/>
<rect x="229" y="598" width="2" height="27" fill="#5aa55a"/>
<rect x="233" y="606" width="2" height="19" fill="#e8605a"/>
<rect x="236" y="592" width="2" height="33" fill="#5aa55a"/>
<rect x="239" y="611" width="2" height="14" fill="#5aa55a"/>
<rect x="242" y="614" width="2" height="11" fill="#5aa55a"/>
<rect x="245" y="610" width="2" height="15" fill="#5aa55a"/>
<rect x="248" y="609" width="2" height="16" fill="#5aa55a"/>
<rect x="251" y="610" width="3" height="15" fill="#e8605a"/>
<rect x="252" y="611" width="1" height="14" fill="#fff" fill-opacity="0.45"/>
<rect x="254" y="602" width="2" height="23" fill="#e8605a"/>
<rect x="257" y="594" width="2" height="31" fill="#5aa55a"/>
<rect x="260" y="595" width="2" height="30" fill="#e8605a"/>
<rect x="263" y="616" width="2" height="9" fill="#e8605a"/>
<rect x="266" y="616" width="2" height="9" fill="#e8605a"/>
<rect x="269" y="611" width="2" height="14" fill="#5aa55a"/>
<rect x="272" y="620" width="2" height="5" fill="#5aa55a"/>
<rect x="276" y="611" width="2" height="14" fill="#5aa55a"/>
<rect x="279" y="612" width="2" height="13" fill="#5aa55a"/>
<rect x="282" y="608" width="2" height="17" fill="#5aa55a"/>
<rect x="285" y="610" width="2" height="15" fill="#e8605a"/>
<rect x="288" y="595" width="2" height="30" fill="#e8605a"/>
<rect x="291" y="610" width="2" height="15" fill="#e8605a"/>
<rect x="294" y="599" width="3" height="26" fill="#e8605a"/>
<rect x="295" y="600" width="1" height="25" fill="#fff" fill-opacity="0.45"/>
<rect x="297" y="615" width="2" height="10" fill="#e8605a"/>
<rect x="300" y="601" width="2" height="24" fill="#5aa55a"/>
<rect x="303" y="612" width="2" height="13" fill="#5aa55a"/>
<rect x="306" y="614" width="2" height="11" fill="#5aa55a"/>
<rect x="309" y="593" width="2" height="32" fill="#e8605a"/>
<rect x="312" y="607" width="2" height="18" fill="#5aa55a"/>
<rect x="315" y="614" width="2" height="11" fill="#e8605a"/>
<rect x="319" y="619" width="2" height="6" fill="#e8605a"/>
<rect x="322" y="621" width="2" height="4" fill="#5aa55a"/>
<rect x="325" y="620" width="2" height="5" fill="#5aa55a"/>
<rect x="328" y="614" width="2" height="11" fill="#5aa55a"/>
<rect x="331" y="620" width="2" height="5" fill="#5aa55a"/>
<rect x="334" y="621" width="2" height="4" fill="#5aa55a"/>
<rect x="337" y="620" width="2" height="5" fill="#5aa55a"/>
<rect x="340" y="610" width="3" height="15" fill="#5aa55a"/>
<rect x="341" y="611" width="1" height="14" fill="#fff" fill-opacity="0.45"/>
<rect x="343" y="611" width="2" height="14" fill="#5aa55a"/>
<rect x="346" y="613" width="2" height="12" fill="#e8605a"/>
<rect x="349" y="614" width="2" height="11" fill="#e8605a"/>
<rect x="352" y="617" width="2" height="8" fill="#5aa55a"/>
<rect x="355" y="602" width="2" height="23" fill="#e8605a"/>
<rect x="358" y="616" width="2" height="9" fill="#e8605a"/>
<rect x="362" y="618" width="2" height="7" fill="#5aa55a"/>
<rect x="365" y="604" width="2" height="21" fill="#e8605a"/>
<rect x="368" y="606" width="2" height="19" fill="#5aa55a"/>
<rect x="371" y="614" width="2" height="11" fill="#e8605a"/>
<rect x="374" y="611" width="2" height="14" fill="#5aa55a"/>
<rect x="377" y="618" width="2" height="7" fill="#e8605a"/>
<rect x="380" y="616" width="2" height="9" fill="#e8605a"/>
<rect x="383" y="618" width="3" height="7" fill="#e8605a"/>
<rect x="384" y="619" width="1" height="6" fill="#fff" fill-opacity="0.45"/>
<rect x="386" y="616" width="2" height="9" fill="#5aa55a"/>
<rect x="389" y="614" width="2" height="11" fill="#5aa55a"/>
<rect x="392" y="620" width="2" height="5" fill="#5aa55a"/>
<rect x="395" y="607" width="2" height="18" fill="#e8605a"/>
<rect x="398" y="618" width="2" height="7" fill="#e8605a"/>
<rect x="401" y="614" width="2" height="11" fill="#5aa55a"/>
<rect x="405" y="618" width="2" height="7" fill="#5aa55a"/>
<rect x="408" y="611" width="2" height="14" fill="#e8605a"/>
<rect x="411" y="617" width="2" height="8" fill="#5aa55a"/>
<rect x="414" y="613" width="2" height="12" fill="#5aa55a"/>
<rect x="417" y="616" width="2" height="9" fill="#e8605a"/>
<rect x="420" y="613" width="2" height="12" fill="#5aa55a"/>
<rect x="423" y="615" width="2" height="10" fill="#5aa55a"/>
<rect x="426" y="617" width="3" height="8" fill="#e8605a"/>
<rect x="427" y="618" width="1" height="7" fill="#fff" fill-opacity="0.45"/>
<rect x="429" y="610" width="2" height="15" fill="#e8605a"/>
<rect x="432" y="619" width="2" height="6" fill="#e8605a"/>
<rect x="435" y="617" width="2" height="8" fill="#5aa55a"/>
<rect x="438" y="617" width="2" height="8" fill="#5aa55a"/>
<rect x="441" y="611" width="2" height="14" fill="#5aa55a"/>
<rect x="444" y="615" width="2" height="10" fill="#5aa55a"/>
<rect x="447" y="614" width="2" height="11" fill="#5aa55a"/>
<rect x="451" y="615" width="2" height="10" fill="#e8605a"/>
<rect x="454" y="542" width="2" height="83" fill="#5aa55a"/>
<rect x="457" y="583" width="2" height="42" fill="#5aa55a"/>
<rect x="460" y="600" width="2" height="25" fill="#5aa55a"/>
<rect x="463" y="609" width="2" height="16" fill="#5aa55a"/>
<rect x="466" y="608" width="2" height="17" fill="#5aa55a"/>
<rect x="469" y="617" width="3" height="8" fill="#5aa55a"/>
<rect x="470" y="618" width="1" height="7" fill="#fff" fill-opacity="0.45"/>
<rect x="472" y="609" width="2" height="16" fill="#e8605a"/>
<rect x="475" y="616" width="2" height="9" fill="#e8605a"/>
<rect x="478" y="614" width="2" height="11" fill="#e8605a"/>
<rect x="481" y="590" width="2" height="35" fill="#e8605a"/>
<rect x="484" y="598" width="2" height="27" fill="#5aa55a"/>
<rect x="487" y="603" width="2" height="22" fill="#e8605a"/>
<rect x="490" y="615" width="2" height="10" fill="#e8605a"/>
<rect x="494" y="611" width="2" height="14" fill="#5aa55a"/>
<rect x="497" y="611" width="2" height="14" fill="#e8605a"/>
<rect x="500" y="613" width="2" height="12" fill="#e8605a"/>
<rect x="503" y="614" width="2" height="11" fill="#e8605a"/>
<rect x="506" y="610" width="2" height="15" fill="#5aa55a"/>
<rect x="509" y="615" width="2" height="10" fill="#5aa55a"/>
<rect x="512" y="613" width="3" height="12" fill="#e8605a"/>
<rect x="513" y="614" width="1" height="11" fill="#fff" fill-opacity="0.45"/>
<rect x="515" y="603" width="2" height="22" fill="#5aa55a"/>
<rect x="518" y="617" width="2" height="8" fill="#e8605a"/>
<rect x="521" y="617" width="2" height="8" fill="#e8605a"/>
<rect x="524" y="616" width="2" height="9" fill="#5aa55a"/>
<rect x="527" y="610" width="2" height="15" fill="#5aa55a"/>
<rect x="530" y="618" width="2" height="7" fill="#e8605a"/>
<rect x="533" y="621" width="2" height="4" fill="#5aa55a"/>
<rect x="537" y="610" width="2" height="15" fill="#5aa55a"/>
<rect x="540" y="618" width="2" height="7" fill="#5aa55a"/>
<rect x="543" y="615" width="2" height="10" fill="#5aa55a"/>
<rect x="546" y="610" width="2" height="15" fill="#e8605a"/>
<rect x="549" y="618" width="2" height="7" fill="#e8605a"/>
<rect x="552" y="616" width="2" height="9" fill="#e8605a"/>
<rect x="555" y="618" width="3" height="7" fill="#e8605a"/>
<rect x="556" y="619" width="1" height="6" fill="#fff" fill-opacity="0.45"/>
<rect x="558" y="617" width="2" height="8" fill="#e8605a"/>
<rect x="561" y="615" width="2" height="10" fill="#5aa55a"/>
<rect x="564" y="617" width="2" height="8" fill="#e8605a"/>
<rect x="567" y="607" width="2" height="18" fill="#e8605a"/>
<rect x="570" y="611" width="2" height="14" fill="#5aa55a"/>
<rect x="573" y="618" width="2" height="7" fill="#5aa55a"/>
<rect x="576" y="612" width="2" height="13" fill="#5aa55a"/>
<rect x="580" y="619" width="2" height="6" fill="#e8605a"/>
<rect x="583" y="620" width="2" height="5" fill="#e8605a"/>
<rect x="586" y="615" width="2" height="10" fill="#e8605a"/>
<rect x="589" y="619" width="2" height="6" fill="#e8605a"/>
<rect x="592" y="620" width="2" height="5" fill="#5aa55a"/>
<rect x="595" y="602" width="2" height="23" fill="#e8605a"/>
<rect x="598" y="614" width="3" height="11" fill="#5aa55a"/>
<rect x="599" y="615" width="1" height="10" fill="#fff" fill-opacity="0.45"/>
<rect x="601" y="621" width="2" height="4" fill="#5aa55a"/>
<rect x="604" y="618" width="2" height="7" fill="#5aa55a"/>
<rect x="607" y="618" width="2" height="7" fill="#5aa55a"/>
<rect x="610" y="614" width="2" height="11" fill="#e8605a"/>
<rect x="613" y="614" width="2" height="11" fill="#5aa55a"/>
<rect x="616" y="606" width="2" height="19" fill="#5aa55a"/>
<rect x="619" y="615" width="2" height="10" fill="#5aa55a"/>
<rect x="623" y="608" width="2" height="17" fill="#5aa55a"/>
<rect x="626" y="611" width="2" height="14" fill="#5aa55a"/>
<rect x="629" y="605" width="2" height="20" fill="#5aa55a"/>
<rect x="632" y="597" width="2" height="28" fill="#e8605a"/>
<rect x="635" y="613" width="2" height="12" fill="#5aa55a"/>
<rect x="638" y="585" width="2" height="40" fill="#5aa55a"/>
</g>
<svg x="0" y="0" width="727" height="505" overflow="hidden">
<line x1="41.8" y1="484" x2="700" y2="-5" stroke="#2a7d2a" stroke-width="2.0" stroke-linecap="round"/>
<line x1="-2" y1="8.3" x2="727" y2="35.4" stroke="#ff0000" stroke-width="2"/>
</svg>
<g>
<rect x="5" y="5" width="461" height="16" fill="#fff" fill-opacity="0.7"/>
<rect x="5" y="21" width="100" height="16" fill="#fff" fill-opacity="0.7"/>
<rect x="5" y="37" width="110" height="16" fill="#fff" fill-opacity="0.7"/>
<rect x="5" y="53" width="240" height="16" fill="#fff" fill-opacity="0.7"/>
</g>
<g fill="none" stroke="#111" stroke-width="1" shape-rendering="crispEdges">
<line x1="7.5" y1="13" x2="7.5" y2="17.8"/><rect x="6.5" y="9.5" width="2" height="4" fill="#fff"/>
<line x1="11.5" y1="7" x2="11.5" y2="17.8"/><rect x="10.5" y="11.5" width="2" height="4" fill="#fff"/>
<line x1="15.5" y1="9" x2="15.5" y2="13.5"/><rect x="14.5" y="13.5" width="2" height="4" fill="#fff"/>
</g>
<rect x="9" y="28" width="8" height="3" fill="#1a3cff"/>
<rect x="9" y="44" width="8" height="3" fill="#ff4a3a"/>
<circle cx="12.5" cy="60.4" r="5.1" fill="none" stroke="#444" stroke-width="1.2"/>
<polyline points="12.5,57.3 12.5,60.7 14.6,62.7" fill="none" stroke="#444" stroke-width="1.1"/>
<text x="23.3" y="16.3" font-size="11" fill="#222" xml:space="preserve">Drägerwerk AG &amp; Co. KGaA Vz (XETRA, Last)  O: 73,800  H: 80,600  L: 73,200  C: 80,000</text>
<text x="23.3" y="32.4" font-size="11" fill="#1a3cff" xml:space="preserve">EMA(50)  70,385</text>
<text x="23.3" y="48.4" font-size="11" fill="#ff4a3a" xml:space="preserve">EMA(200)  66,270</text>
<text x="23.3" y="64.4" font-size="11" fill="#555" xml:space="preserve">18.03.2025 - 15.01.2026  <tspan dx="2">(10 Monate, 1 Tag)</tspan></text>
<text x="737.6" y="3.8" font-size="12" fill="#999">92,500</text>
<text x="737.6" y="42.8" font-size="12" fill="#999">88,750</text>
<text x="737.6" y="84.8" font-size="12" fill="#999">85,000</text>
<text x="737.6" y="128.8" font-size="12" fill="#999">81,250</text>
<text x="737.6" y="158.8" font-size="12" fill="#999">78,750</text>
<text x="737.6" y="189.8" font-size="12" fill="#999">76,250</text>
<text x="737.6" y="222.8" font-size="12" fill="#999">73,750</text>
<text x="737.6" y="255.8" font-size="12" fill="#999">71,250</text>
<text x="737.6" y="289.8" font-size="12" fill="#999">68,750</text>
<text x="737.6" y="325.8" font-size="12" fill="#999">66,250</text>
<text x="737.6" y="362.8" font-size="12" fill="#999">63,750</text>
<text x="737.6" y="401.8" font-size="12" fill="#999">61,250</text>
<text x="737.6" y="441.8" font-size="12" fill="#999">58,750</text>
<text x="737.6" y="483.8" font-size="12" fill="#999">56,250</text>
<text x="737.6" y="566" font-size="12" fill="#999">50,00k</text>
<text x="29.5" y="499" font-size="12" fill="#555" text-anchor="middle">Apr</text>
<text x="219.5" y="499" font-size="12" fill="#555" text-anchor="middle">Jul</text>
<text x="422.5" y="499" font-size="12" fill="#555" text-anchor="middle">Okt</text>
<text x="612.5" y="499" font-size="12" fill="#555" text-anchor="middle">Jan '26</text>
<polygon points="727,140.4 735,131.0 780,131.0 780,149.8 735,149.8" fill="#000"/>
<text x="737.6" y="144.4" font-size="12" fill="#fff">80,000</text>
<polygon points="727,166.5 735,157.1 780,157.1 780,175.9 735,175.9" fill="#666"/>
<text x="737.6" y="170.5" font-size="12" fill="#fff">77,800</text>
<polygon points="727,227 735,217.6 780,217.6 780,236.4 735,236.4" fill="#666"/>
<text x="737.6" y="231" font-size="12" fill="#fff">73,100</text>
<polygon points="727,275.5 735,266.1 780,266.1 780,284.9 735,284.9" fill="#666"/>
<text x="737.6" y="279.5" font-size="12" fill="#fff">69,500</text>
<polygon points="727,305.5 735,296.1 780,296.1 780,314.9 735,314.9" fill="#666"/>
<text x="737.6" y="309.5" font-size="12" fill="#fff">67,350</text>
<polygon points="727,406.5 735,397.1 780,397.1 780,415.9 735,415.9" fill="#666"/>
<text x="737.6" y="410.5" font-size="12" fill="#fff">60,700</text>
<polygon points="727,450.5 735,441.1 780,441.1 780,459.9 735,459.9" fill="#666"/>
<text x="737.6" y="454.5" font-size="12" fill="#fff">58,000</text>
<polygon points="727,585.3 735,576 780,576 780,594.6 735,594.6" fill="#2f9bc6"/>
<text x="737.6" y="589.5" font-size="12" fill="#111">31,79k</text>
<rect x="5" y="512.5" width="158" height="16.5" fill="#fff" fill-opacity="0.75"/>
<g fill="#2a862a" shape-rendering="crispEdges"><rect x="7" y="519" width="3" height="6"/><rect x="11" y="516" width="3" height="9"/><rect x="15" y="521" width="3" height="4"/></g>
<text x="23.3" y="524.5" font-size="11" fill="#4f9a4f" xml:space="preserve">Volumen(1)  31,79k  <tspan fill="#3aa0cf">31,79k</tspan></text>
</svg></body></html>
